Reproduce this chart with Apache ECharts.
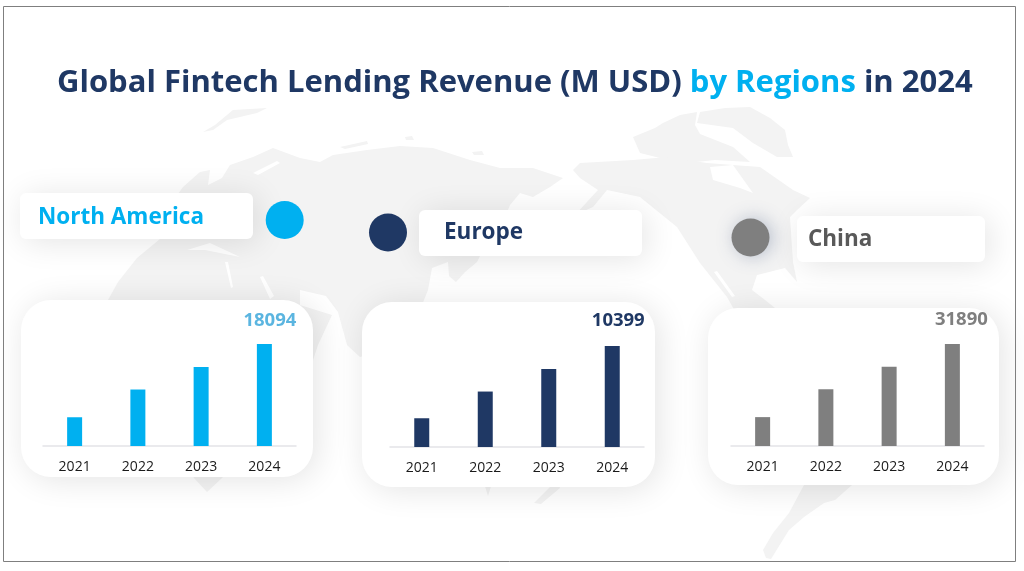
<!DOCTYPE html>
<html><head><meta charset="utf-8">
<style>html,body{margin:0;padding:0;background:#fff}#c{width:1024px;height:571px}</style>
<script src="https://cdn.jsdelivr.net/npm/echarts@6/dist/echarts.min.js"></script>
</head><body><div id="c"></div>
<script>
const years = ['2021','2022','2023','2024'];
const northAmerica = [5100,10020,14000,18094];
const europe = [2960,5710,8020,10399];
const china = [9030,17740,24750,31890];
const regionNames = ['North America','Europe','China'];
const titleParts = ['Global Fintech Lending Revenue (M USD) ','by Regions',' in 2024'];

const FONT = '"Open Sans", "Noto Sans", sans-serif';
const BLUE='#00B0F0', NAVY='#1F3864', GREY='#7F7F7F';
const LAND='#F3F3F3';

const land = [
 // Greenland
 [[697,123],[700,112],[725,108],[750,107],[770,118],[785,130],[788,145],[793,157],[777,157],[753,143],[733,128]],
 // Arctic islands
 [[633,137],[655,128],[663,123],[680,115],[697,112],[695,125],[700,134],[733,147],[750,162],[715,160],[687,163],[660,158],[640,153]],
 // Svalbard
 [[203,132],[215,125],[233,110],[267,108],[257,113],[227,120],[213,130]],
 // Novaya Zemlya
 [[340,147],[367,141],[368,144],[345,149]],
 [[405,137],[412,136],[414,140],[406,140]],
 [[472,152],[482,151],[484,155],[474,155]],
 // Eurasia + Africa
 [[108,300],[118,282],[137,258],[160,239],[170,205],[183,187],[200,172],[210,170],[208,185],[222,178],[230,165],[253,157],[273,148],[300,158],[320,162],[333,155],[367,150],[400,146],[433,148],[470,160],[500,168],[533,168],[563,178],[550,187],[533,197],[520,193],[510,205],[500,230],[480,256],[477,262],[465,272],[456,282],[449,276],[448,262],[432,268],[428,290],[420,310],[400,345],[360,357],[347,345],[338,312],[326,296],[300,290],[300,305],[332,315],[318,345],[300,400],[222,478],[207,492],[194,478],[150,400],[108,330]],
 // Tails below the middle card
 [[483,480],[493,480],[488,496]],
 [[557,480],[560,488],[541,504],[534,503]],
 // North America
 [[573,170],[580,163],[633,160],[667,157],[707,163],[733,165],[760,167],[793,190],[810,198],[797,210],[790,217],[793,262],[797,282],[785,268],[757,275],[752,290],[765,300],[790,320],[740,320],[727,297],[700,263],[677,227],[640,197],[607,190],[593,207],[575,215],[598,190],[580,178]],
 // South America
 [[790,310],[860,340],[880,420],[852,485],[835,500],[824,503],[804,517],[789,530],[771,559],[766,558],[763,550],[773,533],[789,513],[804,485],[760,400]]
];
const seas = [
 [[187,250],[210,243],[240,257],[225,254],[205,250]],
 [[225,262],[228,262],[233,287],[231,288]],
 [[260,277],[263,276],[274,296],[270,299]],
 [[253,173],[277,161],[280,163],[258,175]],
 [[710,167],[733,165],[753,193],[740,188],[713,180]],
 [[757,278],[785,272],[793,283],[790,292],[765,296]],
 [[714,272],[717,271],[735,296],[732,297]]
];

const graphics = [];
land.forEach(p => graphics.push({type:'polygon',z:1,silent:true,shape:{points:p},style:{fill:LAND}}));
seas.forEach(p => graphics.push({type:'polygon',z:1,silent:true,shape:{points:p},style:{fill:'#fff'}}));
function card(x,y,w,h,r){
  graphics.push({type:'rect',z:3,silent:true,shape:{x,y,width:w,height:h,r},
    style:{fill:'#fff',shadowBlur:32,shadowColor:'rgba(0,0,0,0.11)',shadowOffsetX:4,shadowOffsetY:3}});
}
card(21,300,292,177,30); card(362,302,293,185,30); card(708,308,291,177,30);
card(20,193,233,46,6); card(419,210,223,46,6); card(797,216,188,46,6);
function dot(cx,cy,c,sh){
  graphics.push({type:'circle',z:4,silent:true,shape:{cx,cy,r:19},
    style:{fill:c,shadowBlur:sh?18:0,shadowColor:sh||'transparent',shadowOffsetX:3}});
}
dot(284.7,220,BLUE); dot(388,232.5,NAVY); dot(750.5,237.5,GREY,'rgba(70,90,130,0.35)');
function label(t,x,y,c){
  graphics.push({type:'text',z:5,silent:true,x,y,style:{text:t,fill:c,font:'700 22.5px '+FONT,textAlign:'left',textVerticalAlign:'middle'}});
}
label(regionNames[0],38,218,BLUE); label(regionNames[1],444,233,NAVY); label(regionNames[2],808,240,'#595959');
graphics.push({type:'rect',z:6,silent:true,shape:{x:3.5,y:6.5,width:1012,height:555},style:{fill:'none',stroke:'#7F7F7F',lineWidth:1}});

const panels = [
  {vals:northAmerica,color:BLUE,lab:'#5BB5E0',left:43,right:296,base:446,h:102,dx:5.5,dist:14},
  {vals:europe,color:NAVY,lab:NAVY,left:390,right:644,base:447,h:101,dx:6,dist:16},
  {vals:china,color:GREY,lab:GREY,left:731,right:984,base:446,h:102,dx:9,dist:15}
];
const grid=[],xAxis=[],yAxis=[],series=[];
panels.forEach((p,i)=>{
  grid.push({left:p.left,top:p.base-p.h,width:p.right-p.left,height:p.h});
  xAxis.push({type:'category',gridIndex:i,data:years,z:10,
    axisTick:{show:false},axisLine:{lineStyle:{color:'#E3E3E8',width:1.5}},
    axisLabel:{color:'#1a1a1a',fontSize:14,fontFamily:FONT,margin:14}});
  yAxis.push({type:'value',gridIndex:i,min:0,max:Math.max(...p.vals),show:false,splitLine:{show:false}});
  series.push({type:'bar',xAxisIndex:i,yAxisIndex:i,z:12,barWidth:15,silent:true,
    itemStyle:{color:p.color},
    label:{show:true,position:'top',distance:p.dist,offset:[p.dx,0],color:p.lab,fontFamily:FONT,fontWeight:700,fontSize:18.5,
      formatter:o=>o.dataIndex===years.length-1?String(o.value):''},
    data:p.vals});
});

const chart = echarts.init(document.getElementById('c'),null,{renderer:'canvas'});
chart.setOption({
  animation:false,
  backgroundColor:'#fff',
  title:{left:52,top:63,z:8,text:'{a|'+titleParts[0]+'}{b|'+titleParts[1]+'}{a|'+titleParts[2]+'}',
    textStyle:{rich:{
      a:{fontFamily:FONT,fontWeight:700,fontSize:31,color:NAVY},
      b:{fontFamily:FONT,fontWeight:700,fontSize:31,color:BLUE}}}},
  graphic:{elements:graphics},
  grid,xAxis,yAxis,series
});
</script></body></html>
